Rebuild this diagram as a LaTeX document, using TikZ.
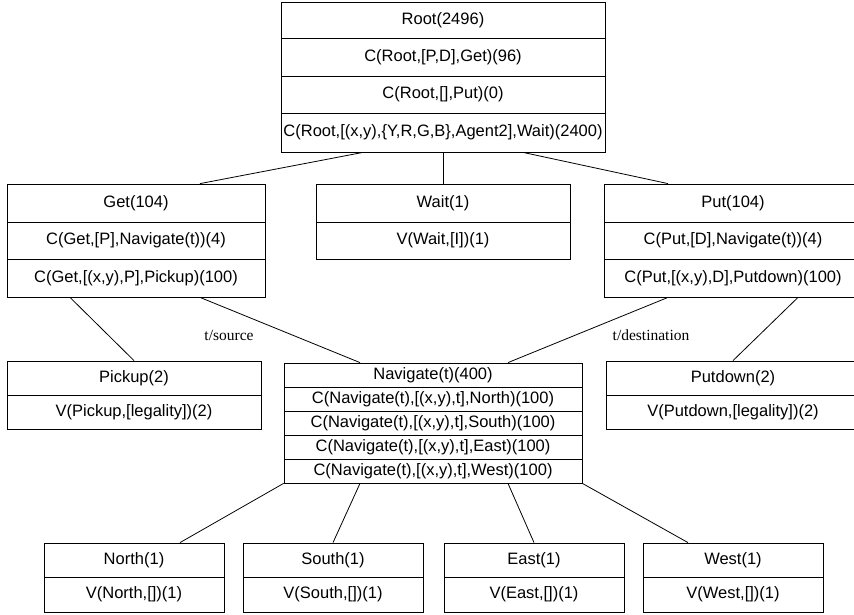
\documentclass[tikz,border=0pt]{standalone}
\usepackage{fontspec}
\setmainfont{Liberation Sans}
\newfontfamily\edgefont{Liberation Serif}
\usetikzlibrary{calc}
\begin{document}
\begin{tikzpicture}[x=1bp,y=-1bp,
  frame/.style={draw, line width=0.8bp, inner sep=0pt, fill=white},
  sep/.style={line width=0.8bp},
  txt/.style={inner sep=0pt, font=\fontsize{16.5bp}{19bp}\selectfont},
  lbl/.style={inner sep=0pt, font=\edgefont\fontsize{15.5bp}{18bp}\selectfont},
  link/.style={line width=0.8bp}]
\useasboundingbox (0,0) rectangle (854,615);

% ---- top level: Root ----
\node[frame, minimum width=324bp, minimum height=150bp] (root) at (443,77) {};
\draw[sep] (281,38) -- (605,38) (281,76) -- (605,76) (281,113) -- (605,113);
\node[txt] (root1) at (443,20)    {Root(2496)};
\node[txt] (root2) at (443,57)    {C(Root,[P,D],Get)(96)};
\node[txt] (root3) at (443,94.5)  {C(Root,[],Put)(0)};
\node[txt] (root4) at (443,132.5) {C(Root,[(x,y),\{Y,R,G,B\},Agent2],Wait)(2400)};

% ---- second level ----
\node[frame, minimum width=258bp, minimum height=113bp] (get) at (136,240.5) {};
\draw[sep] (7,222) -- (265,222) (7,259) -- (265,259);
\node[txt] (get1) at (136,203)   {Get(104)};
\node[txt] (get2) at (136,240.5) {C(Get,[P],Navigate(t))(4)};
\node[txt] (get3) at (136,278)   {C(Get,[(x,y),P],Pickup)(100)};

\node[frame, minimum width=254bp, minimum height=75bp] (wait) at (443,221.5) {};
\draw[sep] (316,222) -- (570,222);
\node[txt] (wait1) at (443,203)   {Wait(1)};
\node[txt] (wait2) at (443,240.5) {V(Wait,[I])(1)};

\node[frame, minimum width=258bp, minimum height=113bp] (put) at (733,240.5) {};
\draw[sep] (604,222) -- (862,222) (604,259) -- (862,259);
\node[txt] (put1) at (733,203)   {Put(104)};
\node[txt] (put2) at (733,240.5) {C(Put,[D],Navigate(t))(4)};
\node[txt] (put3) at (733,278)   {C(Put,[(x,y),D],Putdown)(100)};

% ---- third level ----
\node[frame, minimum width=254bp, minimum height=68bp] (pickup) at (134,395) {};
\draw[sep] (7,395) -- (261,395);
\node[txt] (pickup1) at (134,378) {Pickup(2)};
\node[txt] (pickup2) at (134,412) {V(Pickup,[legality])(2)};

\node[frame, minimum width=298bp, minimum height=120bp] (nav) at (433,423) {};
\draw[sep] (284,387) -- (582,387) (284,411) -- (582,411)
           (284,435) -- (582,435) (284,459) -- (582,459);
\node[txt] (nav1) at (433,375) {Navigate(t)(400)};
\node[txt] (nav2) at (433,399) {C(Navigate(t),[(x,y),t],North)(100)};
\node[txt] (nav3) at (433,423) {C(Navigate(t),[(x,y),t],South)(100)};
\node[txt] (nav4) at (433,447) {C(Navigate(t),[(x,y),t],East)(100)};
\node[txt] (nav5) at (433,471) {C(Navigate(t),[(x,y),t],West)(100)};

\node[frame, minimum width=254bp, minimum height=68bp] (putdown) at (733,395) {};
\draw[sep] (606,395) -- (860,395);
\node[txt] (putdown1) at (733,378) {Putdown(2)};
\node[txt] (putdown2) at (733,412) {V(Putdown,[legality])(2)};

% ---- primitive actions ----
\foreach \nm/\cx/\word in {north/134/North, south/333/South, east/534/East, west/733/West}{
  \node[frame, minimum width=180bp, minimum height=69bp] (\nm) at (\cx,577.5) {};
  \draw[sep] (\cx-90,577) -- (\cx+90,577);
  \node[txt] (\nm1) at (\cx,560)   {\word(1)};
  \node[txt] (\nm2) at (\cx,594.5) {V(\word,[])(1)};
}

% ---- connectors ----
\draw[link] ($(root.south)+(-80,0)$) -- ($(get.north)+(64,0)$);
\draw[link] (root.south) -- (wait.north);
\draw[link] ($(root.south)+(80,0)$) -- ($(put.north)+(-65,0)$);
\draw[link] ($(get.south)+(-66,0)$) -- (pickup.north);
\draw[link] ($(get.south)+(64,0)$) -- ($(nav.north)+(-73,0)$);
\draw[link] ($(put.south)+(-65,0)$) -- ($(nav.north)+(75,0)$);
\draw[link] ($(put.south)+(65,0)$) -- (putdown.north);
\draw[link] (nav.south west) -- ($(north.north)+(46,0)$);
\draw[link] ($(nav.south)+(-73,0)$) -- (south.north);
\draw[link] ($(nav.south)+(75,0)$) -- (east.north);
\draw[link] (nav.south east) -- ($(west.north)+(-45,0)$);

% ---- edge labels ----
\node[lbl] (lsrc) at (229,335) {t/source};
\node[lbl] (ldst) at (651,335) {t/destination};
\end{tikzpicture}
\end{document}
